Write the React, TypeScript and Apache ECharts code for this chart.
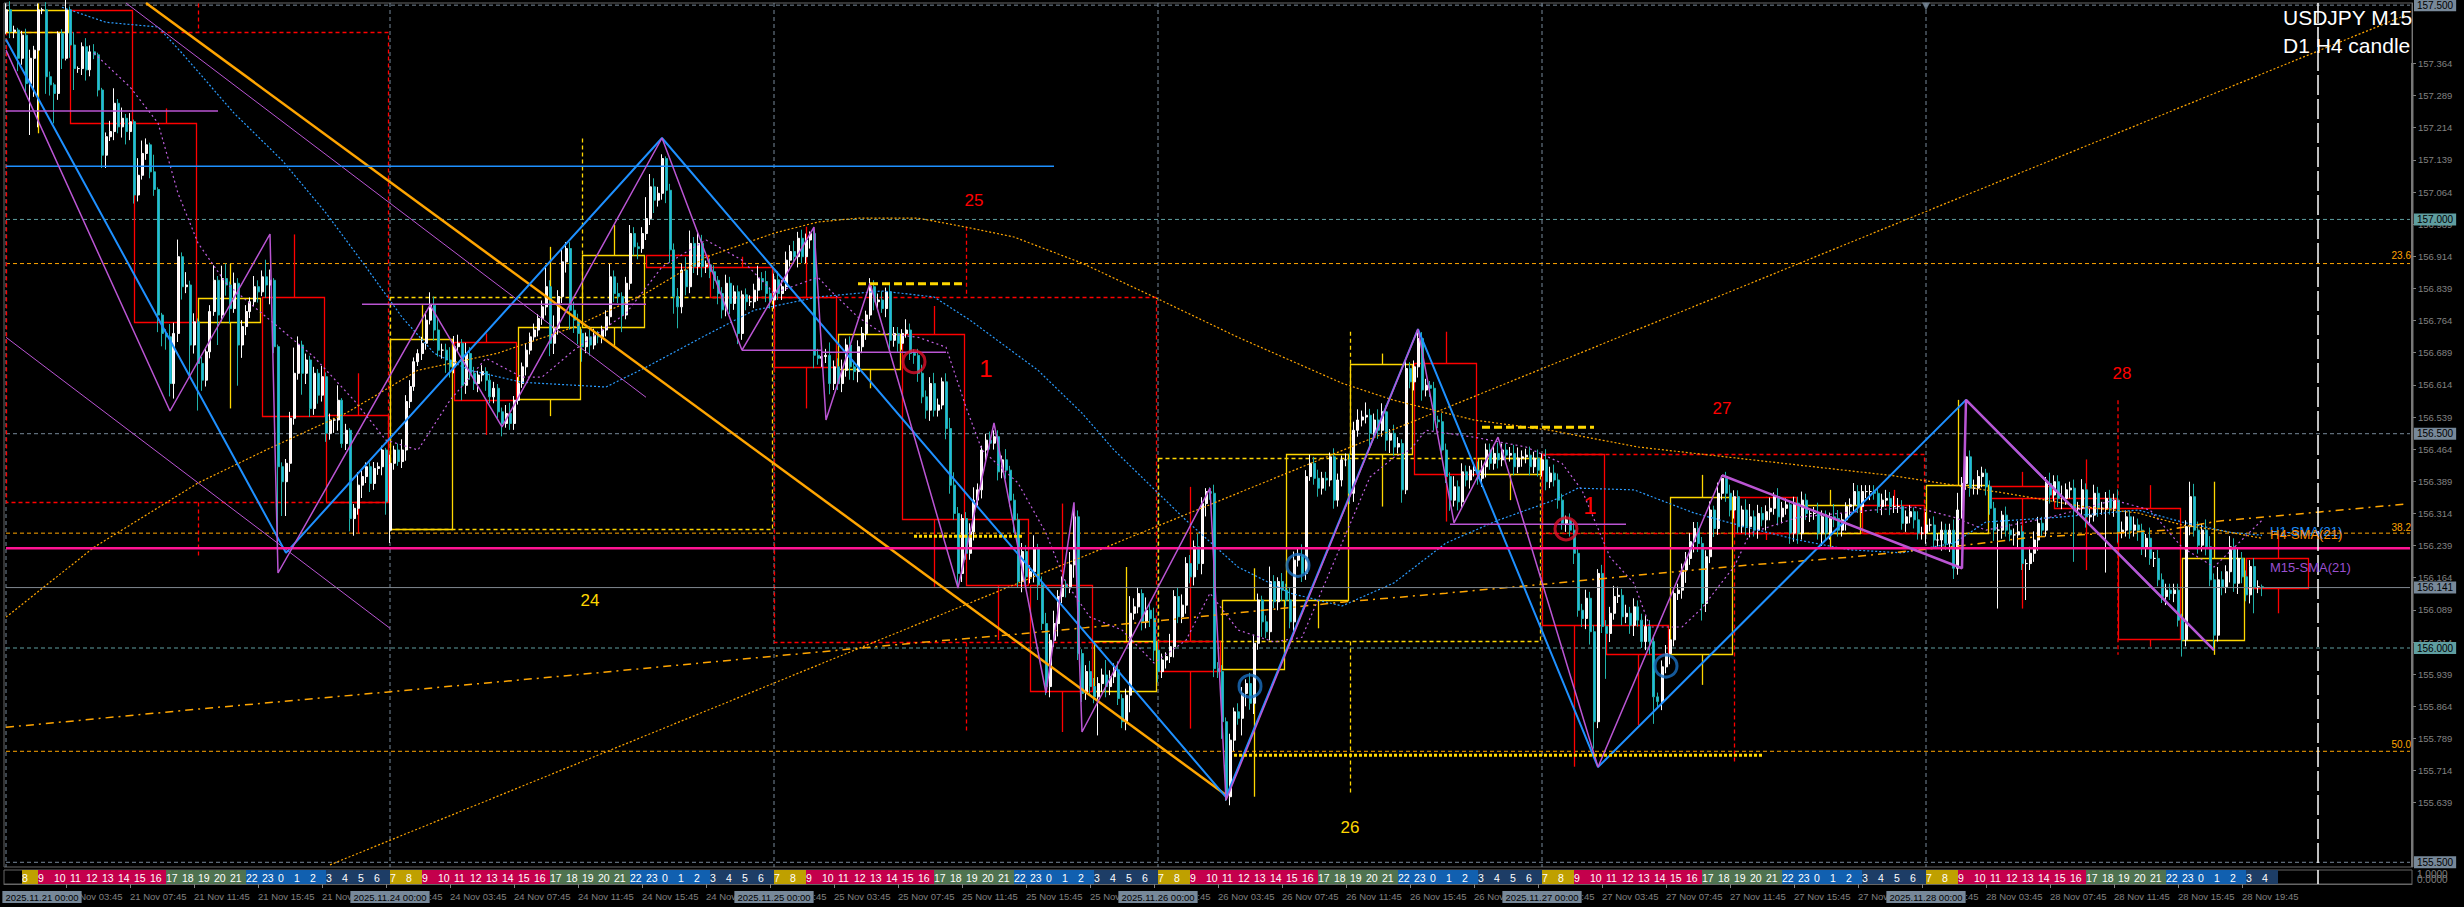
import React, { useEffect, useRef } from "react";
import * as echarts from "echarts";

// All prices are stored as thousandths above 155.000 (2489 = 157.489)
const CLOSES_21 = [2489,2438,2442,2376,2430,2317,2376,2395,2489,2489,2333,2314,2294,2434,2376,2489,2407,2352,2352,2403,2349,2391,2384,2302,2150,2193,2205,2271,2216,2236,2205,2228,2057,2103,2154,2174,2111,2070,1777,1734,1726,1617,1734,1913,1843,1847,1707,1761,1664,1625,1691,1785,1858,1777,1862,1847,1792,1851,1707,1750,1785,1808,1843,1831,1866,1847,1858,1703,1423,1388,1431,1536,1641,1707,1641,1672,1559,1641,1590,1633,1501,1532,1532,1578,1477,1508,1302,1326,1380,1400,1423,1384,1419,1423,1462,1341];
const CLOSES_24 = [1431,1462,1435,1462,1575,1610,1668,1687,1711,1765,1800,1742,1695,1695,1672,1656,1703,1711,1613,1687,1641,1617,1637,1645,1625,1586,1606,1551,1524,1547,1524,1578,1617,1656,1695,1726,1742,1769,1796,1843,1711,1746,1820,1901,1932,1788,1765,1734,1703,1726,1707,1730,1726,1742,1773,1866,1827,1820,1777,1851,1967,1936,1932,1967,2002,2076,2045,2061,2142,2068,1929,1820,1796,1882,1843,1944,1890,1944,1890,1894,1878,1858,1827,1789,1851,1804,1831,1734,1824,1808,1808,1835,1862,1855,1827,1812];
const CLOSES_25 = [1859,1827,1843,1905,1925,1913,1956,1913,1952,1967,1683,1676,1680,1683,1617,1656,1617,1648,1707,1656,1645,1703,1734,1777,1843,1808,1812,1792,1831,1718,1734,1711,1734,1742,1687,1683,1641,1586,1555,1617,1555,1567,1621,1512,1380,1314,1174,1302,1221,1271,1345,1369,1462,1485,1478,1493,1411,1439,1415,1345,1299,1155,1225,1166,1178,1233,1147,1057,910,1018,1057,1120,1147,1143,1194,1306,987,894,945,910,886,917,937,910,933,949,882,828,890,1081,1096,1127,1061,1088,1069,995];
const CLOSES_26 = [945,972,980,1003,1120,1073,1100,1197,1166,1236,1197,1337,1365,1361,952,945,828,653,785,851,836,894,917,871,1011,1112,1061,1038,1155,1108,1155,1135,1112,1061,1205,1217,1174,1400,1431,1396,1373,1396,1392,1446,1345,1392,1439,1439,1361,1508,1532,1539,1543,1501,1532,1508,1551,1485,1501,1469,1477,1369,1652,1621,1656,1722,1602,1613,1606,1532,1528,1462,1400,1345,1376,1341,1411,1392,1415,1415,1396,1423,1462,1431,1454,1439,1462,1450,1454,1423,1443,1446,1450,1423,1443,1415];
const CLOSES_27 = [1439,1388,1408,1392,1345,1291,1299,1275,1221,1088,1069,1116,1038,828,1174,1050,1034,1081,1120,1123,1073,1081,1053,1096,1065,1015,1050,1015,886,875,956,987,1019,1127,1135,1182,1209,1248,1279,1244,1104,1213,1322,1279,1361,1396,1361,1322,1353,1283,1322,1283,1306,1275,1314,1299,1318,1326,1353,1306,1326,1334,1268,1338,1268,1345,1314,1314,1314,1268,1306,1268,1306,1302,1275,1299,1330,1334,1365,1330,1365,1365,1365,1361,1330,1345,1349,1330,1330,1330,1291,1306,1318,1299,1268,1268];
const CLOSES_28 = [1287,1287,1252,1252,1275,1244,1275,1186,1322,1384,1446,1373,1373,1400,1408,1376,1326,1275,1275,1310,1275,1264,1264,1271,1197,1197,1221,1252,1291,1275,1384,1357,1388,1349,1349,1369,1373,1326,1326,1369,1306,1310,1361,1326,1326,1349,1326,1345,1271,1275,1306,1275,1287,1275,1232,1256,1209,1209,1159,1120,1135,1127,1135,1065,1019,1283,1353,1275,1240,1275,1236,1159,1030,1159,1143,1178,1236,1151,1209,1166,1124,1190,1143,1143,1141];

const UP_WICKS = [15,20,10,5,10,15,20,10,15,5,18,12,5,5,10,25,8,30,5,10,20,15,18,5,5,10,25,35,10,25,10,20,5,40,30,15,5,40,5,5,10,30,25,40,10,30,10,20,8,15,10,15,35,10,30,35,8,25,12,15,15,10,25,15,15,40,25,5,5,10,10,15,60,20,10,15,10,15,10,25,10,15,5,35,5,15,5,10,30,15,10,10,15,10,10,5,
20,10,15,25,15,15,10,10,15,20,30,20,25,15,15,30,25,20,10,25,15,15,10,15,10,15,15,10,10,20,25,10,15,10,15,10,15,10,15,50,15,30,15,30,15,15,20,15,10,10,25,15,10,10,15,30,15,25,10,15,20,15,10,15,50,30,20,15,10,5,15,15,20,15,30,30,15,25,20,10,15,15,10,15,20,15,15,15,10,15,15,15,30,15,25,15,
15,20,15,20,15,25,15,20,15,5,10,15,10,15,30,15,20,25,15,20,10,15,15,10,20,15,15,20,10,20,15,15,10,25,15,10,15,20,15,15,25,15,10,20,25,30,15,10,15,20,30,15,10,15,20,15,15,10,25,10,15,15,20,15,15,30,10,20,25,15,30,15,20,10,30,15,15,10,15,25,20,15,15,35,15,15,20,10,15,40,20,15,10,30,15,25,
20,15,10,30,15,20,25,15,20,15,30,15,8,10,20,15,15,10,15,10,20,15,10,25,20,15,10,15,35,15,10,20,15,30,20,15,25,15,20,15,20,15,15,10,20,15,10,15,15,20,25,15,30,15,15,25,20,15,10,20,15,10,20,15,15,22,15,15,10,15,10,20,15,10,25,15,20,15,10,15,20,15,15,15,20,25,15,15,15,20,25,15,15,20,15,20,
15,25,15,20,15,15,10,15,20,15,15,20,15,15,10,20,15,15,25,20,15,20,15,20,15,15,25,15,15,10,15,20,25,15,15,15,15,20,15,15,15,15,20,10,25,7,15,20,15,15,10,25,30,15,20,15,15,25,10,20,15,15,10,15,15,20,15,10,15,25,15,15,10,30,20,15,10,15,20,15,15,15,15,15,10,15,20,15,25,20,15,15,15,10,20,15,
30,15,20,15,20,15,15,25,40,15,133,15,20,15,15,10,15,15,15,10,20,15,15,25,15,10,15,20,15,15,15,25,15,15,30,15,15,20,15,25,15,15,20,15,15,15,20,15,25,20,15,15,20,15,15,10,25,15,20,15,15,15,15,15,15,15,35,30,20,15,25,25,15,30,20,15,25,20,25,15,15,15,20,15,5];
const DOWN_WICKS = [5,15,15,30,15,20,120,90,180,10,40,25,70,15,25,5,30,50,10,15,25,15,10,15,30,30,10,20,15,25,30,20,20,15,10,15,15,15,40,30,30,30,35,20,30,15,70,20,110,25,15,15,10,70,15,25,35,10,95,30,20,15,10,25,10,30,45,15,190,80,80,20,15,15,50,25,20,15,20,15,20,15,30,25,10,15,30,40,15,30,15,20,15,15,20,30,
30,15,10,15,25,15,10,10,15,15,10,25,15,20,30,25,15,10,35,20,15,15,20,15,25,15,15,15,30,10,15,15,10,10,20,10,10,15,15,20,30,25,15,15,25,45,30,25,35,15,25,10,15,15,15,20,20,15,40,10,15,20,25,10,15,15,30,15,15,30,30,40,50,15,20,15,15,20,25,15,15,20,25,20,15,25,15,25,15,20,10,15,25,20,20,20,
20,15,15,10,15,15,25,15,15,20,30,15,20,15,25,15,15,20,15,30,20,25,15,15,10,20,15,10,20,20,15,20,15,10,15,20,20,15,20,25,15,15,10,25,20,15,30,20,15,15,20,15,20,25,15,15,20,15,20,15,30,15,25,20,15,25,35,15,20,25,15,30,15,25,15,30,15,20,15,20,15,90,20,25,20,15,15,15,20,40,15,15,20,15,20,25,
25,15,20,15,25,15,15,20,15,20,15,25,30,15,20,15,40,10,20,25,15,40,30,15,25,15,35,15,20,15,20,25,15,15,25,15,20,15,10,15,20,15,25,15,20,15,15,15,25,20,15,15,15,30,15,20,15,25,30,20,15,30,10,15,20,25,25,15,20,25,15,20,15,25,15,20,15,15,20,15,15,20,25,15,15,20,15,15,15,20,15,20,15,20,15,15,
15,20,15,15,20,15,20,15,25,15,20,25,30,63,15,15,106,20,15,15,20,15,20,25,15,15,20,30,63,15,20,15,25,15,15,20,30,15,25,20,40,20,15,20,15,15,20,15,20,15,15,20,25,15,20,15,25,20,15,20,15,15,25,20,25,15,15,20,15,15,30,15,15,20,15,15,25,20,15,15,15,15,20,15,15,20,15,20,15,15,15,20,15,20,15,15,
25,15,20,15,25,15,20,25,15,20,15,20,15,15,25,20,15,25,183,20,15,15,25,30,15,85,15,20,25,15,15,20,15,20,25,15,20,125,15,20,25,15,15,20,15,150,15,20,25,15,15,20,15,25,15,20,15,20,15,15,20,15,20,15,39,15,20,15,20,15,20,15,35,15,20,15,25,20,25,15,15,20,62,15,20];

const GAP_OPEN_BAR = 96;
const GAP_OPEN = 1275;

const BAR_COUNT = 602;
const DAYS = ["21 Nov", "24 Nov", "25 Nov", "26 Nov", "27 Nov", "28 Nov", "29 Nov"];
const TICKS = [157.439,157.364,157.289,157.214,157.139,157.064,156.989,156.914,156.839,156.764,156.689,156.614,156.539,156.464,156.389,156.314,156.239,156.164,156.089,156.014,155.939,155.864,155.789,155.714,155.639,155.564];
const PRICE_TAGS: [number, string, string][] = [[157.5,"157.500","#778899"],[157,"157.000","#5F9EA0"],[156.5,"156.500","#778899"],[156.141,"156.141","#778899"],[156,"156.000","#5F9EA0"],[155.5,"155.500","#778899"]];
const DATE_TAGS: [number, string][] = [[0,"2025.11.21 00:00"],[96,"2025.11.24 00:00"],[192,"2025.11.25 00:00"],[288,"2025.11.26 00:00"],[384,"2025.11.27 00:00"],[480,"2025.11.28 00:00"]];
const DAY_BARS = [0,96,192,288,384,480];

// H4 candles: start bar, bullish, body top, body bottom, wick top, wick bottom
const H4_ROWS: [number, number, number, number, number, number][] = [
[0,1,2489,2438,2504,2201],[16,0,2489,2226,2489,2226],[32,0,2226,1761,2259,1761],[48,1,1816,1760,1897,1559],[64,0,1818,1542,1965,1542],[80,0,1543,1340,1641,1267],
[96,1,1722,1277,1800,1277],[112,0,1715,1578,1734,1497],[128,1,1750,1581,1936,1541],[144,1,1918,1750,1987,1703],[160,0,1918,1888,1918,1888],[176,0,1888,1820,1913,1820],
[192,0,1820,1655,1983,1559],[208,1,1732,1652,1732,1606],[224,0,1732,1300,1798,1143],[240,0,1300,1147,1300,1018],[256,0,1147,899,1337,804],[272,1,1016,899,1189,899],
[288,0,1016,946,1376,812],[304,1,1112,950,1186,653],[320,1,1452,1113,1452,1046],[336,1,1662,1452,1687,1330],[352,0,1664,1405,1738,1295],[368,1,1443,1405,1443,1345],
[384,0,1452,1054,1452,723],[400,0,1054,985,1054,820],[416,1,1353,987,1404,914],[432,0,1353,1268,1353,1252],[448,1,1334,1268,1369,1236],[464,0,1334,1268,1369,1268],
[480,1,1380,1268,1579,1268],[496,0,1378,1349,1411,1092],[512,0,1349,1326,1440,1182],[528,0,1326,1020,1380,1003],[544,1,1209,1019,1388,984],[560,0,1211,1141,1267,1081]];
// D1 candles: start bar, bullish, body top, body bottom, wick top, wick bottom
const D1_ROWS: [number, number, number, number, number, number][] = [
[0,0,2438,1340,2504,1209],[96,1,1820,1277,2189,1277],[192,0,1820,1015,1983,805],[288,1,1443,1016,1738,658],[384,0,1452,1268,1452,731]];
const D1_LAST_WICK: [number, number][] = [[528,1578],[528,984]];

const ZIG_PURPLE: [number, number][] = [[0,2395],[41,1553],[66,1966],[68,1175],[106,1800],[124,1516],[164,2190],[184,1695],[202,1982],[205,1532],[216,1851],[238,1140],[247,1525],[260,895],[267,1340],[269,804],[301,1373],[305,645],[353,1744],[362,1292],[373,1492],[398,722],[429,1403]];
const ZIG_PURPLE_THICK: [number, number][] = [[429,1403],[489,1186],[490,1579],[552,995]];
const ZIG_BLUE: [number, number][] = [[0,2420],[70,1222],[164,2190],[305,652],[353,1744],[398,722],[490,1579],[552,995]];
const TREND_ORANGE: [number, number][] = [[35,2505],[305,657]];
const CHANNEL_A: [number, number][] = [[30,2505],[160,1585]];
const CHANNEL_B: [number, number][] = [[0,1725],[96,1046]];
const TREND_DOTTED: [number, number][] = [[81,494],[600,2477]];
const SMA_D1: [number, number][] = [[0,815],[51,860],[95,897],[142,937],[192,981],[230,1014],[256,1035],[282,1058],[308,1082],[334,1107],[360,1128],[387,1151],[408,1170],[435,1193],[461,1212],[490,1240],[507,1259],[527,1268],[540,1275],[553,1296],[578,1317],[600,1336]];
const SMA_H4: [number, number][] = [[0,1072],[22,1235],[48,1385],[65,1462],[85,1548],[103,1648],[123,1688],[142,1749],[160,1828],[175,1912],[192,1968],[203,1994],[213,2003],[228,2003],[240,1982],[252,1959],[269,1898],[287,1819],[308,1725],[334,1618],[347,1578],[367,1532],[386,1508],[408,1469],[448,1427],[471,1403],[487,1380],[500,1361],[520,1329],[533,1315],[544,1287],[553,1275],[564,1256]];
const SMA_H1: [number, number][] = [[14,2495],[25,2460],[38,2449],[44,2388],[57,2248],[69,2138],[80,2015],[90,1889],[99,1772],[107,1688],[116,1648],[129,1620],[150,1609],[160,1655],[174,1725],[187,1788],[203,1819],[219,1833],[232,1819],[241,1765],[258,1648],[269,1548],[277,1462],[295,1298],[308,1189],[321,1128],[334,1098],[347,1152],[360,1245],[373,1298],[387,1345],[393,1373],[407,1369],[422,1315],[435,1282],[448,1252],[461,1229],[474,1222],[487,1245],[495,1294],[513,1305],[533,1322],[544,1294],[556,1270],[564,1263]];
const SMA_M15: [number, number][] = [[22,2388],[31,2309],[38,2225],[43,2061],[48,1945],[55,1851],[66,1765],[77,1679],[87,1578],[95,1485],[103,1462],[111,1578],[120,1676],[129,1632],[134,1632],[142,1695],[155,1781],[164,1889],[175,1952],[184,1905],[192,1828],[203,1865],[206,1835],[213,1772],[219,1735],[228,1725],[235,1702],[240,1562],[244,1462],[253,1385],[260,1268],[265,1152],[271,1072],[279,1042],[287,965],[295,1018],[301,1128],[308,1042],[317,1014],[324,1025],[334,1245],[341,1399],[347,1445],[351,1462],[355,1508],[367,1492],[380,1469],[389,1431],[394,1368],[401,1212],[407,1151],[411,1049],[419,1049],[424,1093],[430,1166],[432,1189],[436,1268],[448,1305],[467,1322],[477,1329],[487,1305],[495,1275],[511,1305],[527,1345],[536,1322],[544,1235],[552,1189],[564,1298]];

const PURPLE_LEVELS: [number, number, number][] = [[0,53,2253],[89,160,1802],[184,204,1695],[204,235,1690],[361,405,1289]];
const BLUE_LEVEL: [number, number, number] = [0,262,2124];
const PINK_LEVEL = 1233;
const LAST_PRICE = 1141;
const FIB_LEVELS: [number, string, number][] = [[1897,"23.6",1915],[1268,"38.2",1282],[759,"50.0",776]];
const GRID_LEVELS: [number, string][] = [[2500,"#778899"],[2000,"#5F9EA0"],[1500,"#778899"],[1000,"#5F9EA0"],[500,"#778899"]];
const YELLOW_DASHED: [number, number, number][] = [[213,240,1850],[369,397,1515]];
const YELLOW_DOTTED: [number, number, number][] = [[227,254,1261],[307,439,750]];
const RED_CIRCLES: [number, number][] = [[227,1668],[390,1278]];
const BLUE_CIRCLES: [number, number][] = [[323,1193],[311,911],[415,958]];
const NOW_BAR = 578;

const TEXT_MARKS: [number, number, string, string, number, string][] = [
[242,2045,"25","#FF0000",17,"center"],[245,1653,"1","#FF0000",24,"center"],[146,1112,"24","#FFD700",17,"center"],[336,582,"26","#FFD700",17,"center"],[396,1333,"1","#FF0000",24,"center"],[429,1560,"27","#FF0000",17,"center"],[529,1641,"28","#FF0000",17,"center"],
[566,1271,"H1-SMA(21)","#1E90FF",13,"left"],[566,1266,"H4-SMA(21)","#FF8C00",13,"left"],[566,1189,"M15-SMA(21)","#9A50D0",13,"left"]];

const HOUR_LABELS = ["7","8","9","10","11","12","13","14","15","16","17","18","19","20","21","22","23","0","1","2","3","4","5","6"];
const SESSION_COLORS = ["#BFA000","#BFA000","#C4004C","#C4004C","#C4004C","#C4004C","#C4004C","#C4004C","#C4004C","#C4004C","#4F7350","#4F7350","#4F7350","#4F7350","#4F7350","#1160B0","#1160B0","#1160B0","#1160B0","#1160B0","#1D3D66","#1D3D66","#1D3D66","#1D3D66"];
const STRIP_END_BAR = 568;

const FONT = '"Liberation Sans", Arial, sans-serif';
const P = (m: number) => 155 + m / 1000;
const pts = (a: [number, number][]) => a.map(([i, m]) => [i, P(m)]);

const allCloses = [...CLOSES_21, ...CLOSES_24, ...CLOSES_25, ...CLOSES_26, ...CLOSES_27, ...CLOSES_28];
const candles = allCloses.map((c, i) => {
  const o = i === 0 ? 2438 : i === GAP_OPEN_BAR ? GAP_OPEN : allCloses[i - 1];
  const hi = Math.max(o, c) + (UP_WICKS[i] ?? 0);
  const lo = Math.min(o, c) - (DOWN_WICKS[i] ?? 0);
  return [P(o), P(c), P(lo), P(hi)];
});

const categories = Array.from({ length: BAR_COUNT }, (_, i) => {
  const d = DAYS[Math.floor(i / 96)];
  const mins = (i % 96) * 15;
  const hh = String(Math.floor(mins / 60)).padStart(2, "0");
  const mm = String(mins % 60).padStart(2, "0");
  return `${d} ${hh}:${mm}`;
});

const stripRows: { bar: number; label: string; color: string }[] = [];
for (let bar = 4; bar < STRIP_END_BAR; bar += 4) {
  const h = (bar / 4) % 24;
  stripRows.push({ bar, label: HOUR_LABELS[h], color: SESSION_COLORS[h] });
}

function line(data: number[][], color: string, width: number, type: any, z = 5, extra: any = {}) {
  return { type: "line", data, showSymbol: false, silent: true, z, lineStyle: { color, width, type, cap: "butt" }, ...extra };
}

function boxSeries(rows: [number, number, number, number, number, number][], span: number, dash: number[] | null, z: number) {
  return {
    type: "custom",
    silent: true,
    z,
    clip: true,
    encode: { x: 0, y: 2 },
    data: rows.map((r) => [r[0], r[1], P(r[2]), P(r[3]), P(r[4]), P(r[5])]),
    renderItem: (params: any, api: any) => {
      const r = rows[params.dataIndex];
      const left = api.coord([r[0], P(r[2])]);
      const right = api.coord([r[0] + span, P(r[2])]);
      const bottom = api.coord([r[0], P(r[3])]);
      const mid = api.coord([r[0] + span / 2, P(r[4])]);
      const midLow = api.coord([r[0] + span / 2, P(r[5])]);
      const color = r[1] ? "#FFD700" : "#FF0000";
      const style = { stroke: color, fill: "none", lineWidth: 1.3, lineDash: dash || undefined };
      const x1 = left[0] + 0.5;
      const x2 = right[0] - 1.5;
      const y1 = Math.round(left[1]) + 0.5;
      const y2 = Math.round(bottom[1]) + 0.5;
      const mx = Math.round(mid[0]) + 0.5;
      return {
        type: "group",
        children: [
          { type: "rect", shape: { x: x1, y: y1, width: x2 - x1, height: y2 - y1 }, style },
          { type: "line", shape: { x1: mx, y1: mid[1], x2: mx, y2: y1 }, style },
          { type: "line", shape: { x1: mx, y1: y2, x2: mx, y2: midLow[1] }, style },
        ],
      };
    },
  };
}

export default function App() {
  const ref = useRef<HTMLDivElement>(null);
  useEffect(() => {
    document.body.style.margin = "0";
    document.body.style.background = "#000";
    const chart = echarts.init(ref.current!, undefined, { renderer: "svg" });
    const series: any[] = [];
    // grid levels
    GRID_LEVELS.forEach(([m, c]) => series.push(line([[0, P(m)], [BAR_COUNT - 1, P(m)]], c, 1, [4, 3], 1)));
    DAY_BARS.forEach((b) => series.push(line([[b, P(2505)], [b, P(489)]], "#778899", 1, [4, 3], 1)));
    FIB_LEVELS.forEach(([m]) => series.push(line([[0, P(m)], [BAR_COUNT - 1, P(m)]], "#FFA500", 1, [4, 3], 1)));
    // higher timeframe candles
    series.push(boxSeries(D1_ROWS, 96, [4, 3], 2));
    series.push(line(pts(D1_LAST_WICK), "#FF0000", 1.3, [4, 3], 2));
    series.push(boxSeries(H4_ROWS, 16, null, 3));
    // price
    series.push({
      type: "candlestick",
      data: candles,
      barWidth: 2.5,
      z: 4,
      silent: true,
      itemStyle: { color: "#FFF0F0", color0: "#25B5E5", borderColor: "#FFFFFF", borderColor0: "#20B2AA", borderWidth: 1 },
    });
    // moving averages and trends
    series.push(line(pts(SMA_M15), "#C060E0", 1.2, [2, 3]));
    series.push(line(pts(SMA_H1), "#2A9CFF", 1.2, [2, 2]));
    series.push(line(pts(SMA_H4), "#FFA500", 1.2, [2, 2]));
    series.push(line(pts(SMA_D1), "#FFA500", 1.5, [8, 5, 2, 5]));
    series.push(line(pts(TREND_DOTTED), "#FFA500", 1.2, [2, 2]));
    series.push(line(pts(CHANNEL_A), "#BA55D3", 1, "solid"));
    series.push(line(pts(CHANNEL_B), "#BA55D3", 1, "solid"));
    series.push(line(pts(TREND_ORANGE), "#FFA500", 2.5, "solid", 6));
    series.push(line(pts(ZIG_BLUE), "#1E90FF", 2, "solid", 6));
    series.push(line(pts(ZIG_PURPLE), "#BA55D3", 1.5, "solid", 7));
    series.push(line(pts(ZIG_PURPLE_THICK), "#BA55D3", 2.5, "solid", 7));
    PURPLE_LEVELS.forEach(([a, b, m]) => series.push(line([[a, P(m)], [b, P(m)]], "#BA55D3", 1.5, "solid", 6)));
    series.push(line([[BLUE_LEVEL[0], P(BLUE_LEVEL[2])], [BLUE_LEVEL[1], P(BLUE_LEVEL[2])]], "#1E90FF", 1.5, "solid", 6));
    series.push(line([[0, P(PINK_LEVEL)], [BAR_COUNT - 1, P(PINK_LEVEL)]], "#FF1493", 2.5, "solid", 6));
    series.push(line([[0, P(LAST_PRICE)], [BAR_COUNT - 1, P(LAST_PRICE)]], "#808890", 1, "solid", 5));
    YELLOW_DASHED.forEach(([a, b, m]) => series.push(line([[a, P(m)], [b, P(m)]], "#FFD700", 3, [8, 4], 7)));
    YELLOW_DOTTED.forEach(([a, b, m]) => series.push(line([[a, P(m)], [b, P(m)]], "#FFD700", 3, [3, 2], 7)));
    series.push(line([[NOW_BAR, P(2505)], [NOW_BAR, P(489)]], "#FFFFFF", 1.5, [20, 4], 8));
    // circles
    series.push({ type: "scatter", data: pts(RED_CIRCLES), symbol: "circle", symbolSize: 22, silent: true, z: 9, itemStyle: { color: "rgba(0,0,0,0)", borderColor: "#E0102A", borderWidth: 3 } });
    series.push({ type: "scatter", data: pts(BLUE_CIRCLES), symbol: "circle", symbolSize: 22, silent: true, z: 9, itemStyle: { color: "rgba(0,0,0,0)", borderColor: "#1A6FC0", borderWidth: 3 } });
    series.push({ type: "scatter", data: [[480, P(2497)]], symbol: "triangle", symbolRotate: 180, symbolSize: 8, silent: true, z: 9, itemStyle: { color: "#778899" } });
    // texts
    series.push({
      type: "custom", silent: true, z: 10, encode: { x: 0, y: 1 },
      data: TEXT_MARKS.map((r) => [r[0], P(r[1])]),
      renderItem: (params: any, api: any) => {
        const r = TEXT_MARKS[params.dataIndex];
        const c = api.coord([r[0], P(r[1])]);
        return { type: "text", x: c[0], y: c[1], style: { text: r[2], fill: r[3], font: `${r[4]}px ${FONT}`, align: r[5], verticalAlign: "middle" } };
      },
    });
    series.push({
      type: "custom", silent: true, z: 10, encode: { x: 0, y: 1 },
      data: FIB_LEVELS.map((r) => [BAR_COUNT - 1, P(r[2])]),
      renderItem: (params: any, api: any) => {
        const r = FIB_LEVELS[params.dataIndex];
        const c = api.coord([BAR_COUNT - 1, P(r[2])]);
        return { type: "text", x: c[0] + 1, y: c[1], style: { text: r[1], fill: "#FFA500", font: `10px ${FONT}`, align: "right", verticalAlign: "middle" } };
      },
    });
    // right-hand price tags
    series.push({
      type: "custom", silent: true, z: 12, encode: { x: 0, y: 1 },
      data: PRICE_TAGS.map((r) => [BAR_COUNT - 1, r[0]]),
      renderItem: (params: any, api: any) => {
        const r = PRICE_TAGS[params.dataIndex];
        const c = api.coord([BAR_COUNT - 1, r[0]]);
        return { type: "text", z2: 50, x: c[0] + 4, y: c[1], style: { text: r[1], fill: "#000", font: `10px ${FONT}`, align: "left", verticalAlign: "middle", backgroundColor: r[2], padding: [1, 3, 1, 3] } };
      },
    });
    // session strip
    series.push({
      type: "custom", silent: true, xAxisIndex: 1, yAxisIndex: 1, z: 3, encode: { x: 0, y: 1 },
      data: stripRows.map((r) => [r.bar, 0]),
      renderItem: (params: any, api: any) => {
        const r = stripRows[params.dataIndex];
        const a = api.coord([r.bar, 1]);
        const b = api.coord([r.bar, 0]);
        return {
          type: "group",
          children: [
            { type: "rect", shape: { x: a[0], y: a[1], width: 16, height: b[1] - a[1] }, style: { fill: r.color } },
            { type: "text", x: a[0], y: (a[1] + b[1]) / 2 + 0.5, style: { text: r.label, fill: "#FFF", font: `10.5px ${FONT}`, align: "left", verticalAlign: "middle" } },
          ],
        };
      },
    });
    series.push({ ...line([[NOW_BAR, 0], [NOW_BAR, 1]], "#FFFFFF", 1.5, "solid", 8), xAxisIndex: 1, yAxisIndex: 1 });
    // date tags
    series.push({
      type: "custom", silent: true, xAxisIndex: 1, yAxisIndex: 1, z: 12, encode: { x: 0, y: 1 },
      data: DATE_TAGS.map((r) => [r[0], 0]),
      renderItem: (params: any, api: any) => {
        const r = DATE_TAGS[params.dataIndex];
        const c = api.coord([r[0], 0]);
        const x = Math.max(c[0], 42);
        return { type: "text", z2: 50, x, y: c[1] + 13, style: { text: r[1], fill: "#000", font: `9.5px ${FONT}`, align: "center", verticalAlign: "middle", backgroundColor: "#778899", padding: [1, 3, 1, 3] } };
      },
    });

    chart.setOption({
      animation: false,
      backgroundColor: "#000000",
      textStyle: { fontFamily: FONT },
      grid: [
        { left: 4, top: 3, width: 2408, height: 864, show: true, borderColor: "#666", borderWidth: 1, backgroundColor: "#000" },
        { left: 4, top: 870, width: 2408, height: 14, show: true, borderColor: "#666", borderWidth: 1, backgroundColor: "#000" },
      ],
      xAxis: [
        { type: "category", gridIndex: 0, data: categories, axisLine: { show: false }, axisTick: { show: false }, axisLabel: { show: false }, splitLine: { show: false } },
        {
          type: "category", gridIndex: 1, data: categories, position: "bottom", offset: 2,
          axisLine: { show: true, lineStyle: { color: "#666" } },
          axisTick: { show: true, alignWithLabel: true, length: 4, interval: (i: number) => i % 16 === 15 && i < 570, lineStyle: { color: "#808080" } },
          axisLabel: { show: true, color: "#808080", fontSize: 9.5, fontFamily: FONT, align: "left", margin: 5, interval: (i: number) => i % 16 === 15 && i < 570, hideOverlap: false },
          splitLine: { show: false },
        },
      ],
      yAxis: [
        {
          type: "value", gridIndex: 0, position: "right", min: 155.489, max: 157.505, scale: true,
          axisLine: { show: true, lineStyle: { color: "#777" } },
          axisTick: { show: true, length: 4, customValues: TICKS, lineStyle: { color: "#808080" } },
          axisLabel: { show: true, color: "#808080", fontSize: 9.5, fontFamily: FONT, margin: 6, customValues: TICKS, formatter: (v: number) => v.toFixed(3), showMinLabel: false, showMaxLabel: false },
          splitLine: { show: false },
        },
        { type: "value", gridIndex: 1, min: 0, max: 1, show: false },
      ],
      series,
      graphic: [
        { type: "rect", z: 20, shape: { x: 2411, y: 63, width: 2.5, height: 804 }, style: { fill: "#777" } },
        { type: "text", z: 20, x: 2283, y: 17, style: { text: "USDJPY M15", fill: "#FFF", font: `21px ${FONT}`, verticalAlign: "middle" } },
        { type: "text", z: 20, x: 2283, y: 45, style: { text: "D1 H4 candle", fill: "#FFF", font: `21px ${FONT}`, verticalAlign: "middle" } },
        { type: "text", z: 20, x: 2417, y: 874, style: { text: "1.0000", fill: "#808080", font: `10px ${FONT}`, verticalAlign: "middle" } },
        { type: "text", z: 20, x: 2417, y: 879, style: { text: "0.0000", fill: "#808080", font: `10px ${FONT}`, verticalAlign: "middle" } },
      ],
    });
    return () => chart.dispose();
  }, []);
  return <div ref={ref} style={{ position: "fixed", left: 0, top: 0, width: 2464, height: 907 }} />;
}
